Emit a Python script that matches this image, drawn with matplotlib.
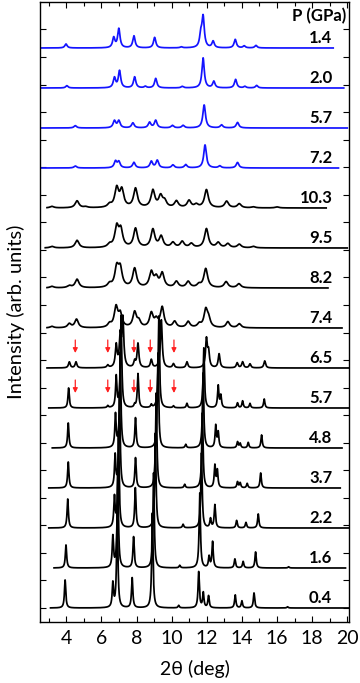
import numpy as np
import matplotlib
matplotlib.use("Agg")
import matplotlib.pyplot as plt
from matplotlib.ticker import MultipleLocator

plt.rcParams['font.family'] = ['Lato', 'DejaVu Sans']

# ---------------- data ----------------
pressures = ['1.4', '2.0', '5.7', '7.2', '10.3', '9.5', '8.2', '7.4',
             '6.5', '5.7', '4.8', '3.7', '2.2', '1.6', '0.4']
colors = ['#1414ff'] * 4 + ['black'] * 11
x_start = [2.5, 2.5, 2.5, 2.5, 2.9, 2.8, 2.9, 2.9, 2.9, 3.0, 3.2, 3.0, 3.0, 3.3, 3.1]
x_end = [19.2, 19.8, 20.0, 19.5, 18.8, 20.0, 18.9, 19.7, 20.1, 20.1, 19.7, 19.6, 20.1, 19.9, 20.1]
hwhm = [0.08, 0.08, 0.09, 0.09, 0.13, 0.13, 0.13, 0.12, 0.06, 0.045, 0.045, 0.045, 0.045, 0.045, 0.045]

pos_1p4 = [3.98, 6.70, 6.99, 7.85, 9.03, 10.55, 11.66, 11.79, 12.36, 13.62, 14.13, 14.80]
hgt_1p4 = [4.0, 10.0, 19.0, 12.0, 10.5, 1.0, 12.0, 30.0, 6.5, 8.5, 2.0, 2.5]

pos_2p0 = [4.03, 6.74, 7.03, 7.89, 8.50, 9.09, 10.60, 11.79, 12.40, 13.64, 14.17, 14.84]
hgt_2p0 = [2.3, 10.0, 17.0, 11.0, 1.5, 9.5, 1.5, 30.0, 6.5, 8.5, 1.5, 2.5]

pos_5p7b = [4.51, 6.74, 6.99, 7.79, 8.74, 9.09, 10.04, 10.65, 11.85, 12.84, 13.75]
hgt_5p7b = [2.3, 7.0, 7.0, 5.0, 5.5, 7.5, 2.5, 2.5, 23.0, 3.0, 5.5]

pos_7p2 = [4.51, 6.80, 6.99, 7.85, 8.84, 9.18, 10.07, 10.80, 11.90, 12.74, 13.75]
hgt_7p2 = [2.0, 6.5, 6.0, 5.5, 6.5, 7.5, 3.0, 3.3, 23.0, 2.0, 5.5]

pos_10p3 = [3.18, 4.61, 5.10, 6.46, 6.87, 7.16, 7.94, 8.93, 9.37, 9.60, 10.27, 10.99, 11.40, 11.98, 13.13, 13.85, 14.65, 16.0]
hgt_10p3 = [1.5, 7.0, 1.0, 3.0, 19.0, 17.0, 19.0, 17.0, 11.0, 6.0, 6.5, 7.0, 3.0, 18.0, 6.5, 4.0, 1.0, 1.0]

pos_9p5 = [3.18, 4.61, 6.46, 6.87, 7.10, 7.94, 8.93, 9.40, 10.07, 10.60, 11.12, 11.98, 12.65, 13.20, 13.85, 14.65]
hgt_9p5 = [1.5, 7.5, 3.0, 20.0, 17.0, 19.0, 18.0, 11.0, 5.0, 6.0, 4.0, 19.0, 5.0, 4.0, 3.5, 1.5]

pos_8p2 = [3.18, 4.17, 4.61, 6.46, 6.87, 7.07, 7.89, 8.84, 9.12, 9.46, 10.27, 10.94, 11.55, 11.94, 13.10, 13.83]
hgt_8p2 = [1.5, 2.0, 8.5, 3.5, 19.0, 18.0, 19.0, 15.0, 9.0, 14.0, 6.0, 6.0, 3.0, 19.0, 6.0, 4.0]

pos_7p4 = [3.18, 4.17, 4.58, 6.46, 6.83, 7.07, 7.89, 8.13, 8.84, 9.12, 9.46, 10.17, 10.94, 11.57, 11.94, 12.10, 13.20, 13.85]
hgt_7p4 = [1.5, 4.0, 8.5, 3.5, 20.0, 13.0, 15.0, 6.0, 14.0, 7.0, 20.0, 6.0, 6.0, 3.5, 17.0, 8.0, 6.0, 4.0]

pos_6p5 = [4.17, 4.55, 6.36, 6.84, 7.07, 7.22, 7.89, 8.08, 8.84, 9.41, 10.10, 10.87, 11.98, 12.10, 12.70, 13.73, 14.04, 14.46, 15.30]
hgt_6p5 = [6.0, 6.0, 2.5, 22.0, 30.0, 48.0, 6.0, 24.0, 8.0, 48.0, 4.0, 6.0, 28.0, 15.0, 14.0, 5.0, 6.0, 4.0, 7.0]

pos_5p7 = [4.13, 6.36, 6.84, 7.12, 7.89, 8.08, 8.84, 9.27, 10.10, 10.87, 11.83, 12.65, 12.80, 13.75, 14.04, 14.46, 15.27]
hgt_5p7 = [20.0, 2.0, 31.0, 92.0, 3.0, 34.0, 3.0, 92.0, 2.0, 4.5, 60.0, 22.0, 12.0, 5.0, 7.0, 4.5, 9.0]

pos_4p8 = [4.11, 6.80, 7.07, 7.94, 9.22, 10.80, 11.79, 12.51, 12.65, 13.75, 13.90, 14.36, 15.12]
hgt_4p8 = [25.0, 33.0, 95.0, 30.0, 95.0, 3.5, 75.0, 22.0, 15.0, 6.0, 4.5, 5.5, 13.0]

pos_3p7 = [4.11, 6.78, 7.03, 7.94, 9.12, 10.74, 11.75, 12.46, 12.60, 13.75, 13.90, 14.30, 15.07]
hgt_3p7 = [26.0, 32.0, 95.0, 30.0, 95.0, 3.5, 75.0, 22.0, 17.0, 6.0, 5.0, 4.5, 15.0]

pos_2p2 = [4.08, 6.74, 6.97, 7.93, 9.07, 10.65, 11.70, 12.21, 12.46, 13.70, 14.23, 14.93]
hgt_2p2 = [29.0, 30.0, 95.0, 40.0, 95.0, 3.5, 75.0, 9.0, 23.0, 7.5, 5.5, 14.0]

pos_1p6 = [3.98, 6.65, 6.93, 7.83, 8.97, 10.46, 11.60, 12.13, 12.33, 13.60, 14.07, 14.78, 16.66]
hgt_1p6 = [23.0, 31.0, 95.0, 31.0, 95.0, 2.5, 75.0, 11.0, 26.0, 9.0, 6.5, 16.0, 1.2]

pos_0p4 = [3.93, 6.65, 6.90, 7.75, 8.90, 10.40, 11.54, 11.80, 12.10, 13.62, 14.00, 14.69, 16.60]
hgt_0p4 = [28.0, 24.0, 95.0, 30.0, 95.0, 2.5, 36.0, 15.0, 12.0, 13.0, 7.0, 15.0, 1.2]

peak_positions = [pos_1p4, pos_2p0, pos_5p7b, pos_7p2, pos_10p3, pos_9p5, pos_8p2, pos_7p4,
                  pos_6p5, pos_5p7, pos_4p8, pos_3p7, pos_2p2, pos_1p6, pos_0p4]
peak_heights = [hgt_1p4, hgt_2p0, hgt_5p7b, hgt_7p2, hgt_10p3, hgt_9p5, hgt_8p2, hgt_7p4,
                hgt_6p5, hgt_5p7, hgt_4p8, hgt_3p7, hgt_2p2, hgt_1p6, hgt_0p4]

# new-phase markers (red arrows) on 6.5 and 5.7 GPa patterns
arrow_x = [4.51, 6.36, 7.85, 8.78, 10.13]
arrow_curves = [8, 9]

# ---------------- figure ----------------
W, H = 360, 683
fig = plt.figure(figsize=(W / 100, H / 100), dpi=100)
ax = fig.add_axes([40 / W, 61 / H, 309 / W, 620 / H])

spacing = 40.0
n = len(pressures)
for i in range(n):
    base = (n - 1 - i) * spacing
    x = np.linspace(x_start[i], x_end[i], 4000)
    y = np.zeros_like(x)
    for p, h in zip(peak_positions[i], peak_heights[i]):
        y += h / (1 + ((x - p) / hwhm[i]) ** 2)
    ax.plot(x, y + base, color=colors[i], lw=1.25, solid_joinstyle='round')
    ax.text(19.15, base + 2, pressures[i], ha='right', va='bottom',
            fontsize=12, fontweight='bold', color='black')

ax.text(19.95, 592, 'P (GPa)', ha='right', va='center', fontsize=12, fontweight='bold')

for c in arrow_curves:
    base = (n - 1 - c) * spacing
    for xa in arrow_x:
        ax.annotate('', xy=(xa, base + 15), xytext=(xa, base + 28),
                    arrowprops=dict(arrowstyle='-|>', color='#ff2020', lw=0.9,
                                    mutation_scale=7, shrinkA=0, shrinkB=0))

ax.set_xlim(2.5, 20.1)
ax.set_ylim(-14, 606)
ax.xaxis.set_major_locator(MultipleLocator(2))
ax.xaxis.set_minor_locator(MultipleLocator(1))
ax.set_yticks([k * 27.55 for k in range(22)])
ax.set_yticklabels([])
ax.tick_params(axis='both', which='both', direction='in', top=True, right=True)
ax.tick_params(axis='both', which='major', length=4, width=0.8)
ax.tick_params(axis='x', which='minor', length=3, width=0.8)
ax.tick_params(axis='x', labelsize=14, pad=6)
for s in ax.spines.values():
    s.set_linewidth(1.0)

ax.set_xlabel('2θ (deg)', fontsize=14, labelpad=9)
ax.set_ylabel('Intensity (arb. units)', fontsize=14.5, labelpad=7)

fig.savefig('out.png', dpi=100)
